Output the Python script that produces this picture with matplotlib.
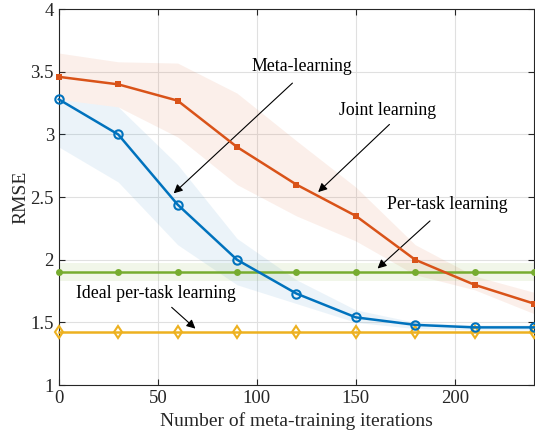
import matplotlib.pyplot as plt
import numpy as np

plt.rcParams['font.family'] = ['Liberation Serif', 'DejaVu Serif']
plt.rcParams['mathtext.fontset'] = 'stix'

iterations = [0, 30, 60, 90, 120, 150, 180, 210, 240]

joint_mean = [3.46, 3.40, 3.27, 2.90, 2.60, 2.35, 2.00, 1.80, 1.65]
joint_upper = [3.65, 3.58, 3.57, 3.33, 2.95, 2.58, 2.12, 1.87, 1.74]
joint_lower = [3.28, 3.22, 2.98, 2.60, 2.35, 2.15, 1.88, 1.76, 1.57]

meta_mean = [3.28, 3.00, 2.44, 2.00, 1.73, 1.54, 1.48, 1.46, 1.46]
meta_upper = [3.28, 3.22, 2.76, 2.17, 1.84, 1.60, 1.50, 1.48, 1.48]
meta_lower = [2.90, 2.62, 2.12, 1.80, 1.65, 1.50, 1.45, 1.44, 1.44]

pertask_mean = [1.90] * 9
pertask_upper = [1.97] * 9
pertask_lower = [1.83] * 9

ideal_mean = [1.42] * 9

c_blue = (0.0, 0.447, 0.741)
c_orange = (0.850, 0.325, 0.098)
c_yellow = (0.929, 0.694, 0.125)
c_green = (0.466, 0.674, 0.188)


def draw_curves(ax):
    ax.fill_between(iterations, joint_lower, joint_upper, color=c_orange,
                    alpha=0.09, linewidth=0)
    ax.fill_between(iterations, meta_lower, meta_upper, color=c_blue,
                    alpha=0.08, linewidth=0)
    ax.fill_between(iterations, pertask_lower, pertask_upper, color=c_green,
                    alpha=0.1, linewidth=0)

    ax.plot(iterations, ideal_mean, color=c_yellow, lw=1.8, marker='d',
            ms=6.5, mfc='none', mew=1.5, clip_on=False, zorder=3)
    ax.plot(iterations, pertask_mean, color=c_green, lw=1.8, marker='o',
            ms=5, mfc=c_green, mew=0, clip_on=False, zorder=3)
    ax.plot(iterations, meta_mean, color=c_blue, lw=1.8, marker='o',
            ms=6, mfc='none', mew=1.5, clip_on=False, zorder=4)
    ax.plot(iterations, joint_mean, color=c_orange, lw=1.8, marker='s',
            ms=5, mfc=c_orange, mew=0, clip_on=False, zorder=4)


def draw_notes(ax):
    arrow = dict(arrowstyle='-|>', color='black', lw=0.8,
                 mutation_scale=13, shrinkA=0, shrinkB=0)
    ax.annotate('', xy=(58, 2.53), xytext=(118, 3.41), arrowprops=arrow)
    ax.annotate('', xy=(131, 2.54), xytext=(167, 3.08), arrowprops=arrow)
    ax.annotate('', xy=(161, 1.93), xytext=(187.5, 2.31), arrowprops=arrow)
    ax.annotate('', xy=(69, 1.45), xytext=(57, 1.62), arrowprops=arrow)

    ax.text(123, 3.54, 'Meta-learning', ha='center', va='center', fontsize=12.8)
    ax.text(166, 3.19, 'Joint learning', ha='center', va='center', fontsize=12.8)
    ax.text(196, 2.44, 'Per-task learning', ha='center', va='center', fontsize=12.8)
    ax.text(49, 1.73, 'Ideal per-task learning', ha='center', va='center',
            fontsize=12.8)


def style_axes(ax):
    ax.set_xlim(0, 240)
    ax.set_ylim(1, 4)
    ax.set_xticks([0, 50, 100, 150, 200])
    ax.set_yticks([1, 1.5, 2, 2.5, 3, 3.5, 4])
    ax.set_yticklabels(['1', '1.5', '2', '2.5', '3', '3.5', '4'])
    ax.grid(True, color='#e0e0e0', lw=0.8)
    ax.set_axisbelow(True)
    ax.tick_params(direction='in', top=True, right=True, labelsize=13.5,
                   length=4, color='#262626', labelcolor='#262626')
    for s in ax.spines.values():
        s.set_color('#262626')
        s.set_linewidth(0.8)
    ax.set_xlabel('Number of meta-training iterations', fontsize=14,
                  color='#262626', labelpad=4)
    ax.set_ylabel('RMSE', fontsize=14, color='#262626', labelpad=1)


if __name__ == '__main__':
    fig = plt.figure(figsize=(5.35, 4.38), dpi=100)
    ax = fig.add_axes([0.110, 0.121, 0.888, 0.858])
    draw_curves(ax)
    draw_notes(ax)
    style_axes(ax)
    fig.savefig('out.png', dpi=100)
